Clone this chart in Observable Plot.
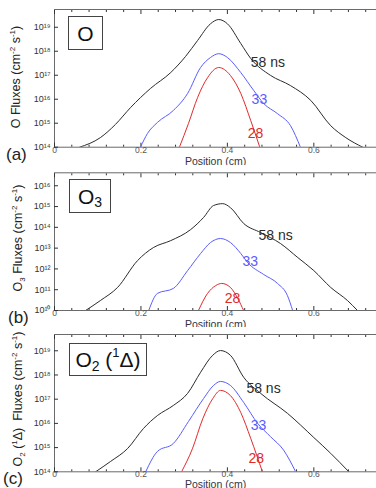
<!DOCTYPE html>
<html><head><meta charset="utf-8">
<script src="https://cdn.jsdelivr.net/npm/d3@7"></script>
<script src="https://cdn.jsdelivr.net/npm/@observablehq/plot@0.6"></script>
<style>
body{margin:0;background:#fff;}
#root{position:relative;width:376px;height:488px;overflow:hidden;font-family:Arial,"Liberation Sans",sans-serif;background:#fff;}
.panel{position:absolute;left:0;}
.box{position:absolute;border:1px solid #444;background:#fff;color:#111;font-size:21px;line-height:1;display:flex;align-items:center;justify-content:center;box-sizing:border-box;white-space:nowrap;}
.box .sb{font-size:14px;position:relative;top:6px;}
.box .sp{font-size:13px;position:relative;top:-7px;}
.tag{position:absolute;font-size:17px;color:#222;line-height:1;}
.ylab{position:absolute;white-space:nowrap;font-size:12.5px;color:#222;line-height:1;transform:translate(-50%,-50%) rotate(-90deg);}
.ylab .sp{font-size:8px;position:relative;top:-5px;}
.ylab .sb{font-size:8px;position:relative;top:3px;}
</style>
</head><body>
<div id="root"></div>
<script>
// ---- data ----
const xMajor = [0, 0.2, 0.4, 0.6];
const xMinor = [0.04,0.08,0.12,0.16,0.24,0.28,0.32,0.36,0.44,0.48,0.52,0.56,0.64,0.68,0.72];
const seriesNames = ["58 ns", "33", "28"];

// Panel (a): O fluxes
const aPos58 = [0.058,0.106,0.141,0.176,0.222,0.269,0.303,0.331,0.361,0.380,0.400,0.431,0.454,0.500,0.546,0.593,0.639,0.674,0.713];
const aVal58 = [1e14,2.5e14,8.9e14,4.5e15,2.8e16,1.3e17,6.0e17,2.8e18,1.4e19,2.1e19,1.4e19,2.1e18,5.0e17,9.8e16,3.7e16,8.9e15,7.9e14,2.5e14,1e14];
const aPos33 = [0.199,0.215,0.238,0.275,0.308,0.338,0.361,0.380,0.400,0.431,0.461,0.484,0.516,0.546,0.569];
const aVal33 = [1e14,3.7e14,1.07e15,3.4e15,1.74e16,2.1e17,5.5e17,7.9e17,5.5e17,1.29e17,2.3e16,6.6e15,2.5e15,7.9e14,1e14];
const aPos28 = [0.289,0.310,0.331,0.354,0.380,0.407,0.431,0.454,0.475];
const aVal28 = [1e14,9.8e14,1.17e16,7.9e16,2.1e17,9.8e16,1.74e16,1.29e15,1e14];
const aLabelPos = [0.454,0.456,0.447];
const aLabelVal = [3.4e17,9.8e15,3.7e14];

// Panel (b): O3 fluxes
const bPos58 = [0.072,0.106,0.146,0.192,0.229,0.269,0.315,0.345,0.368,0.389,0.407,0.438,0.477,0.523,0.563,0.600,0.639,0.678,0.701];
const bVal58 = [1e10,3.0e10,1.29e11,2.5e12,1.07e13,2.3e13,7.8e13,3.0e14,1.12e15,1.38e15,8.9e14,1.51e14,5.6e13,1.66e13,3.5e12,8.3e11,1.29e11,3.0e10,1e10];
const bPos33 = [0.218,0.238,0.275,0.308,0.338,0.361,0.384,0.407,0.431,0.447,0.484,0.516,0.539,0.551];
const bVal33 = [1e10,6.6e10,1.15e11,8.3e11,5.5e12,1.86e13,2.9e13,1.86e13,5.5e12,2.0e12,5.4e11,2.0e11,5.2e10,1e10];
const bPos28 = [0.333,0.354,0.373,0.387,0.407,0.424,0.4375];
const bVal28 = [1e10,6.6e10,1.58e11,2.0e11,1.29e11,3.8e10,1e10];
const bLabelPos = [0.472,0.435,0.394];
const bLabelVal = [4.1e13,2.3e12,3.8e10];

// Panel (c): O2(1Δ) fluxes
const cPos58 = [0.095,0.130,0.169,0.206,0.238,0.275,0.308,0.338,0.366,0.384,0.407,0.438,0.477,0.539,0.600,0.639,0.681];
const cVal58 = [1e14,2.7e14,9.1e14,6.2e15,2.1e16,5.5e16,1.74e17,1.29e18,6.5e18,1.02e19,6.5e18,7.9e17,1.74e17,2.6e16,2.6e15,5.8e14,1e14];
const cPos33 = [0.211,0.238,0.275,0.310,0.345,0.368,0.384,0.407,0.438,0.470,0.500,0.530,0.558];
const cVal33 = [1e14,6.9e14,1.48e15,1.2e16,1.07e17,3.7e17,5.4e17,3.7e17,7.2e16,1.0e16,2.8e15,7.9e14,1e14];
const cPos28 = [0.294,0.319,0.343,0.366,0.384,0.407,0.431,0.454,0.481];
const cVal28 = [1e14,8.9e14,1.55e16,1.05e17,2.3e17,1.41e17,2.8e16,2.4e15,1e14];
const cLabelPos = [0.444,0.454,0.449];
const cLabelVal = [2.8e17,8.1e15,3.5e14];

const aTicks = [1e14,1e15,1e16,1e17,1e18,1e19];
const bTicks = [1e10,1e11,1e12,1e13,1e14,1e15,1e16];
const cTicks = [1e14,1e15,1e16,1e17,1e18,1e19];
const aDomain = [1e14, 5.5e19];
const bDomain = [1e10, 4.2e16];
const cDomain = [1e14, 4.7e19];

// ---- drawing ----
const colors = ["#2b2b2b", "#5a5cff", "#e02a2a"];
const sup = {"0":"⁰","1":"¹","2":"²","3":"³","4":"⁴","5":"⁵","6":"⁶","7":"⁷","8":"⁸","9":"⁹","-":"⁻"};
const fmtY = d => "10" + String(Math.round(Math.log10(d))).split("").map(c => sup[c]).join("");
const fmtX = d => d === 0 ? "0" : d.toFixed(1);
const zip = (p, v, s) => p.map((x, i) => ({x, y: v[i], s}));

function panel({H, mt, mb, domain, ticks, sets, lpos, lval, xdy}) {
  const lines = sets.map((st, i) => Plot.line(zip(st[0], st[1], i), {x: "x", y: "y", stroke: colors[i], strokeWidth: 1, curve: "monotone-x", clip: true}));
  const labels = seriesNames.map((t, i) => ({x: lpos[i], y: lval[i], t, i}));
  return Plot.plot({
    width: 376, height: H,
    marginLeft: 54, marginRight: 0, marginTop: mt, marginBottom: mb,
    style: {fontFamily: "Arial, 'Liberation Sans', sans-serif", background: "white", color: "#333", overflow: "visible"},
    x: {domain: [0, 0.745]},
    y: {type: "log", domain},
    marks: [
      Plot.frame({stroke: "#6a6a6a"}),
      Plot.axisX({ticks: xMajor, tickSize: -4, tickPadding: 3.5, tickFormat: fmtX, fontSize: 8.5, fill: "#555", label: null}),
      Plot.axisX({ticks: xMinor, tickSize: -2, text: null, label: null}),
      Plot.axisX({anchor: "top", ticks: xMajor, tickSize: -4, text: null, label: null}),
      Plot.axisX({anchor: "top", ticks: xMinor, tickSize: -2, text: null, label: null}),
      Plot.axisY({ticks, tickSize: -4, tickPadding: 8, tickFormat: fmtY, fontSize: 9, fill: "#333", label: null}),
      ...lines,
      Plot.text(labels, {x: "x", y: "y", text: "t", fill: d => colors[d.i], textAnchor: "start", fontSize: 14}),
      Plot.text(["Position (cm)"], {frameAnchor: "bottom", dy: xdy, fontSize: 10.5, fill: "#334"})
    ]
  });
}

const root = document.getElementById("root");
const specs = [
  {top: 0, H: 165, mt: 9, mb: 18.3, domain: aDomain, ticks: aTicks,
   sets: [[aPos58, aVal58], [aPos33, aVal33], [aPos28, aVal28]], lpos: aLabelPos, lval: aLabelVal, xdy: 17.5},
  {top: 165, H: 162, mt: 7.3, mb: 17, domain: bDomain, ticks: bTicks,
   sets: [[bPos58, bVal58], [bPos33, bVal33], [bPos28, bVal28]], lpos: bLabelPos, lval: bLabelVal, xdy: 17.5},
  {top: 327, H: 161, mt: 7, mb: 16.7, domain: cDomain, ticks: cTicks,
   sets: [[cPos58, cVal58], [cPos33, cVal33], [cPos28, cVal28]], lpos: cLabelPos, lval: cLabelVal, xdy: 16}
];
specs.forEach(s => {
  const d = document.createElement("div");
  d.className = "panel";
  d.style.top = s.top + "px";
  d.appendChild(panel(s));
  root.appendChild(d);
});

// y-axis titles (rotated)
const ylabels = [
  {x: 16, y: 77, html: "O Fluxes (cm<span class='sp'>-2</span> s<span class='sp'>-1</span>)"},
  {x: 18, y: 238, html: "O<span class='sb'>3</span> Fluxes (cm<span class='sp'>-2</span> s<span class='sp'>-1</span>)"},
  {x: 18, y: 399, html: "O<span class='sb'>2</span> (<span class='sp'>1</span>Δ)&nbsp; Fluxes (cm<span class='sp'>-2</span> s<span class='sp'>-1</span>)"}
];
ylabels.forEach(b => {
  const e = document.createElement("div");
  e.className = "ylab";
  Object.assign(e.style, {left: b.x + "px", top: b.y + "px"});
  e.innerHTML = b.html;
  root.appendChild(e);
});

// legend boxes and panel tags
const boxes = [
  {l: 68, t: 16, w: 35, h: 34, html: "O"},
  {l: 69, t: 179, w: 42, h: 34, html: "O<span class='sb'>3</span>"},
  {l: 69, t: 343, w: 78, h: 33, html: "O<span class='sb'>2</span>&nbsp;(<span class='sp'>1</span>Δ)"}
];
boxes.forEach(b => {
  const e = document.createElement("div");
  e.className = "box";
  Object.assign(e.style, {left: b.l + "px", top: b.t + "px", width: b.w + "px", height: b.h + "px"});
  e.innerHTML = b.html;
  root.appendChild(e);
});
const tags = [{l: 6, t: 146, s: "(a)"}, {l: 8, t: 309, s: "(b)"}, {l: 3, t: 470, s: "(c)"}];
tags.forEach(g => {
  const e = document.createElement("div");
  e.className = "tag";
  Object.assign(e.style, {left: g.l + "px", top: g.t + "px"});
  e.textContent = g.s;
  root.appendChild(e);
});
</script>
</body></html>
